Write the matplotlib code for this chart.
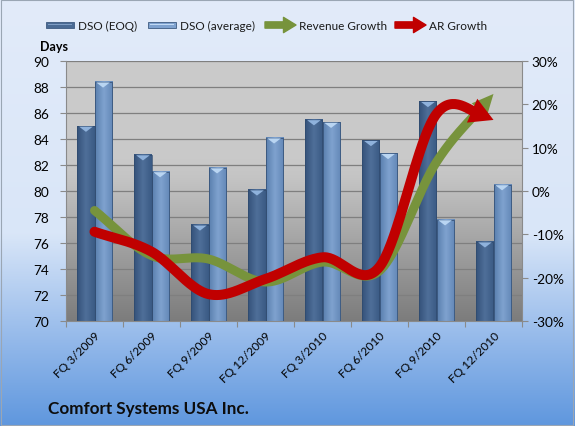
import numpy as np
import matplotlib
matplotlib.use("Agg")
import matplotlib.pyplot as plt
from matplotlib.patches import Polygon, Rectangle
from matplotlib.colors import LinearSegmentedColormap

plt.rcParams['font.family'] = ['Lato', 'DejaVu Sans']

categories = ["FQ 3/2009", "FQ 6/2009", "FQ 9/2009", "FQ 12/2009",
              "FQ 3/2010", "FQ 6/2010", "FQ 9/2010", "FQ 12/2010"]
dso_eoq = [85.0, 82.8, 77.4, 80.1, 85.5, 83.9, 86.9, 76.1]
dso_avg = [88.4, 81.5, 81.8, 84.1, 85.3, 82.9, 77.8, 80.5]
revenue_growth = [-4.5, -14.9, -15.7, -21.0, -16.4, -18.4, 6.7, 22.4]
ar_growth = [-9.4, -14.0, -23.8, -20.3, -15.3, -17.5, 17.8, 16.4]
left_ticks = [70, 72, 74, 76, 78, 80, 82, 84, 86, 88, 90]
right_ticks = [-30, -20, -10, 0, 10, 20, 30]

W, H = 575, 427
fig = plt.figure(figsize=(W / 100, H / 100), dpi=100)

# figure background gradient
bg = fig.add_axes([0, 0, 1, 1], zorder=-10)
bg.set_axis_off()
cmap_bg = LinearSegmentedColormap.from_list(
    "bg", [(0, "#5f97de"), (0.2, "#94b9ea"), (0.45, "#d9e6f8"), (1.0, "#e2ebfa")])
bg.imshow(np.linspace(0, 1, 256).reshape(-1, 1), aspect='auto', cmap=cmap_bg,
          origin='lower', extent=[0, 1, 0, 1])
bg.set_xlim(0, 1); bg.set_ylim(0, 1)
bg.add_patch(Rectangle((0.002, 0.002), 0.995, 0.995, fill=False,
                       edgecolor="#9aa6b4", lw=0.8, transform=bg.transAxes))

ax = fig.add_axes([66 / W, (H - 322) / H, (522 - 66) / W, (322 - 62) / H])
ax.set_facecolor("none")
x = np.arange(len(categories))
ax.set_xlim(-0.5, len(categories) - 0.5)
ax.set_ylim(70, 90)

# plot area gradient
cmap_pa = LinearSegmentedColormap.from_list(
    "pa", [(0, "#7c7c7c"), (0.55, "#c4c4c4"), (0.62, "#c9c9c9"), (1.0, "#cbcbcb")])
ax.imshow(np.linspace(0, 1, 256).reshape(-1, 1), aspect='auto', cmap=cmap_pa,
          origin='lower', extent=[-0.5, len(categories) - 0.5, 70, 90], zorder=0)

for t in left_ticks:
    ax.axhline(t, color="#7f7f7f", lw=0.9, zorder=1)

bw = 0.3
cm_eoq = LinearSegmentedColormap.from_list("e", ["#34527a", "#4f6f99", "#3a5a84"])
cm_avg = LinearSegmentedColormap.from_list("a", ["#5a7fae", "#7fa2cf", "#6388b7"])
grad = np.linspace(0, 1, 64).reshape(1, -1)
for i in range(len(categories)):
    for off, val, cmp, cap in ((-bw / 2, dso_eoq[i], cm_eoq, "#8fb2dc"),
                               (bw / 2, dso_avg[i], cm_avg, "#b9d5f2")):
        x0 = x[i] + off - bw / 2
        ax.imshow(grad, aspect='auto', cmap=cmp, extent=[x0, x0 + bw, 70, val],
                  zorder=2, interpolation='bilinear')
        ax.add_patch(Rectangle((x0, 70), bw, val - 70, fill=False,
                               edgecolor="#2f4a6e", lw=0.5, zorder=3))
        ax.add_patch(Polygon([(x0 + 0.03, val - 0.05), (x0 + bw - 0.03, val - 0.05),
                              (x0 + bw / 2, val - 0.45)], closed=True,
                             facecolor=cap, edgecolor='none', zorder=3))

ax.set_xticks(np.arange(len(categories) + 1) - 0.5, minor=False)
ax.set_xticklabels([])
ax.set_xticks(x, minor=True)
ax.set_xticklabels(categories, minor=True, rotation=45, ha='right',
                   rotation_mode='anchor', fontsize=8.6)
ax.tick_params(axis='x', which='minor', length=0, pad=6)
ax.tick_params(axis='x', which='major', length=4, color="#8a8a8a")
ax.set_yticks(left_ticks)
ax.tick_params(axis='y', length=4, color="#8a8a8a", labelsize=9.8, pad=8)
for s in ("top", "right"):
    ax.spines[s].set_visible(False)
ax.spines['left'].set_color("#8a8a8a")
ax.spines['bottom'].set_color("#8a8a8a")

ax2 = ax.twinx()
ax2.set_ylim(-30, 30)
ax2.set_yticks(right_ticks)
ax2.set_yticklabels([f"{t}%" for t in right_ticks])
ax2.tick_params(axis='y', length=4, color="#8a8a8a", labelsize=9.8, pad=3)
for s in ("top", "left", "bottom"):
    ax2.spines[s].set_visible(False)
ax2.spines['right'].set_color("#8a8a8a")
ax2.set_xlim(-0.5, len(categories) - 0.5)


def catmull(pts, n=40):
    pts = np.asarray(pts, float)
    ext = np.vstack([pts[0] - (pts[1] - pts[0]), pts, pts[-1] + (pts[-1] - pts[-2])])
    out = []
    for i in range(1, len(ext) - 2):
        p0, p1, p2, p3 = ext[i - 1], ext[i], ext[i + 1], ext[i + 2]
        c1 = p1 + (p2 - p0) / 6
        c2 = p2 - (p3 - p1) / 6
        t = np.linspace(0, 1, n, endpoint=False)[:, None]
        seg = ((1 - t) ** 3) * p1 + 3 * ((1 - t) ** 2) * t * c1 + 3 * (1 - t) * t ** 2 * c2 + t ** 3 * p2
        out.append(seg)
    out.append(pts[-1:])
    return np.vstack(out)


def arrow_line(vals, color, lw_px, head_len, head_w, z):
    disp = ax2.transData.transform(np.column_stack([x, vals]))
    curve = catmull(disp)
    tip = curve[-1]
    d = np.hypot(*(curve - tip).T)
    idx = np.where(d >= head_len)[0][-1]
    base = curve[idx]
    body = curve[:idx + 1]
    inv = ax2.transData.inverted()
    bd = inv.transform(body)
    ax2.plot(bd[:, 0], bd[:, 1], color=color, lw=lw_px * 0.72,
             solid_capstyle='round', zorder=z)
    u = (tip - base) / np.hypot(*(tip - base))
    nrm = np.array([-u[1], u[0]])
    poly = [base + nrm * head_w / 2, tip, base - nrm * head_w / 2]
    ax2.add_patch(Polygon(inv.transform(np.array(poly)), closed=True,
                          facecolor=color, edgecolor='none', zorder=z))


arrow_line(revenue_growth, "#77933c", 9, 20, 20, 5)
arrow_line(ar_growth, "#c00000", 10, 22, 26, 6)

# legend
def fx(px):
    return px / W


def fy(py):
    return 1 - py / H


ly = 26
for x0, c1, c2, label, tx in ((46, "#4a6a94", "#7f9dc4", "DSO (EOQ)", 78),
                              (148, "#7fa2cf", "#c2daf4", "DSO (average)", 180)):
    fig.patches.append(Rectangle((fx(x0), fy(ly + 3)), fx(28), 6 / H,
                                 transform=fig.transFigure, facecolor=c1,
                                 edgecolor="#3d5a80", lw=0.6))
    fig.patches.append(Rectangle((fx(x0 + 2), fy(ly)), fx(24), 1.5 / H,
                                 transform=fig.transFigure, facecolor=c2,
                                 edgecolor='none'))
    fig.text(fx(tx), fy(ly), label, fontsize=8.5, va='center', ha='left', color="#1a1a1a")

for x0, x1, color, label, tx in ((265, 296, "#77933c", "Revenue Growth", 299),
                                 (395, 426, "#c00000", "AR Growth", 429)):
    bg.annotate('', xy=(fx(x1), fy(ly)), xytext=(fx(x0), fy(ly)),
                xycoords='axes fraction', textcoords='axes fraction',
                arrowprops=dict(arrowstyle='simple,head_length=0.9,head_width=1.1,tail_width=0.45',
                                color=color, mutation_scale=10, shrinkA=0, shrinkB=0))
    fig.text(fx(tx), fy(ly), label, fontsize=8.5, va='center', ha='left', color="#1a1a1a")

fig.text(fx(40), fy(47), "Days", fontsize=9, fontweight='bold', va='center', ha='left')
fig.text(fx(48), fy(409), "Comfort Systems USA Inc.", fontsize=12.3, fontweight='bold',
         va='center', ha='left', color="#0d0d0d")

fig.savefig("out.png", dpi=100)
